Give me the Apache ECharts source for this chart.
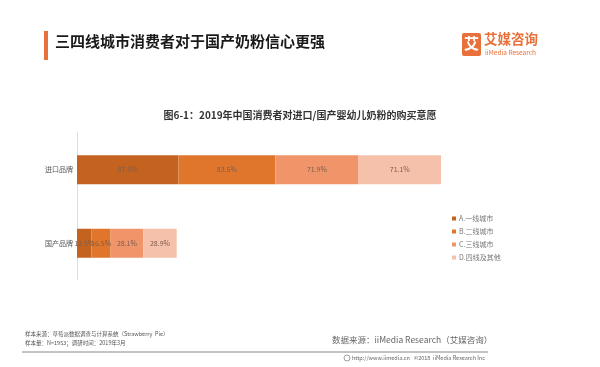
<!DOCTYPE html>
<html>
<head>
<meta charset="utf-8">
<script src="https://cdn.jsdelivr.net/npm/echarts@6/dist/echarts.min.js"></script>
<style>
html,body{margin:0;padding:0;background:#fff;}
#main{width:600px;height:367px;}
</style>
</head>
<body>
<div id="main"></div>
<script>
const categories = ['进口品牌', '国产品牌'];
const seriesNames = ['A.一线城市', 'B.二线城市', 'C.三线城市', 'D.四线及其他'];
const valuesA = [87.5, 12.5];
const valuesB = [83.5, 16.5];
const valuesC = [71.9, 28.1];
const valuesD = [71.1, 28.9];
const colors = ['#C4631F', '#E0762C', '#F0956A', '#F6C1AB'];

const FONT = '"Noto Sans CJK SC", "Noto Sans", sans-serif';
const chart = echarts.init(document.getElementById('main'), null, {renderer: 'canvas'});
const allValues = [valuesA, valuesB, valuesC, valuesD];

const series = allValues.map((vals, i) => ({
  name: seriesNames[i],
  type: 'bar',
  stack: 'total',
  barWidth: 29,
  data: vals,
  itemStyle: {color: colors[i]},
  label: {
    show: true,
    position: 'inside',
    formatter: p => p.value.toFixed(1) + '%',
    fontSize: 7,
    color: '#7d5d4d',
    fontFamily: FONT
  }
}));

function t(text, left, top, size, color, bold) {
  return {text: text, left: left, top: top, padding: 0,
    textStyle: {fontSize: size, fontWeight: bold ? 'bold' : 'normal', color: color, fontFamily: FONT}};
}

chart.setOption({
  animation: false,
  backgroundColor: '#fff',
  title: [
    t('三四线城市消费者对于国产奶粉信心更强', 55, 34, 15, '#1a1a1a', true),
    t('图6-1：2019年中国消费者对进口/国产婴幼儿奶粉的购买意愿', 'center', 110, 10, '#333', true),
    t('艾媒咨询', 484, 32, 13.5, '#E8703A', true),
    t('iiMedia Research', 485, 49, 6.5, '#E8703A', false),
    t('样本来源：草莓派数据调查与计算系统（Strawberry  Pie）', 25, 331, 5.5, '#555', false),
    t('样本量：N=1953；调研时间：2019年3月', 25, 340, 5.5, '#555', false),
    t('数据来源：iiMedia Research（艾媒咨询）', 332, 336, 8.5, '#666', false),
    t('http://www.iimedia.cn   ©2018  iiMedia Research Inc', 352, 355, 5.5, '#666', false)
  ],
  graphic: [
    {type: 'rect', shape: {x: 44, y: 31, width: 4, height: 29}, style: {fill: '#E8703A'}},
    {type: 'rect', shape: {x: 462, y: 33, width: 19, height: 23, r: 2}, style: {fill: '#E8703A'}},
    {type: 'text', x: 464, y: 36, style: {text: '艾', fill: '#fff', font: 'bold 15px ' + FONT}},
    {type: 'line', shape: {x1: 22, y1: 352, x2: 488, y2: 352}, style: {stroke: '#888', lineWidth: 1}},
    {type: 'circle', shape: {cx: 347, cy: 358, r: 3}, style: {fill: 'none', stroke: '#888', lineWidth: 0.8}}
  ],
  legend: {
    orient: 'vertical',
    left: 447,
    top: 210,
    itemWidth: 4,
    itemHeight: 4,
    itemGap: 6,
    icon: 'rect',
    data: seriesNames,
    textStyle: {fontSize: 7, color: '#777', fontFamily: FONT, padding: [0, 0, 0, -2]}
  },
  grid: {left: 77, top: 133, width: 463.7, height: 147},
  xAxis: {
    type: 'value', min: 0, max: 400, show: false
  },
  yAxis: {
    type: 'category',
    data: categories,
    inverse: true,
    axisLine: {show: true, lineStyle: {color: '#ddd', width: 1}},
    axisTick: {show: false},
    axisLabel: {fontSize: 7, color: '#555', margin: 4, fontFamily: FONT}
  },
  series: series
});
</script>
</body>
</html>
